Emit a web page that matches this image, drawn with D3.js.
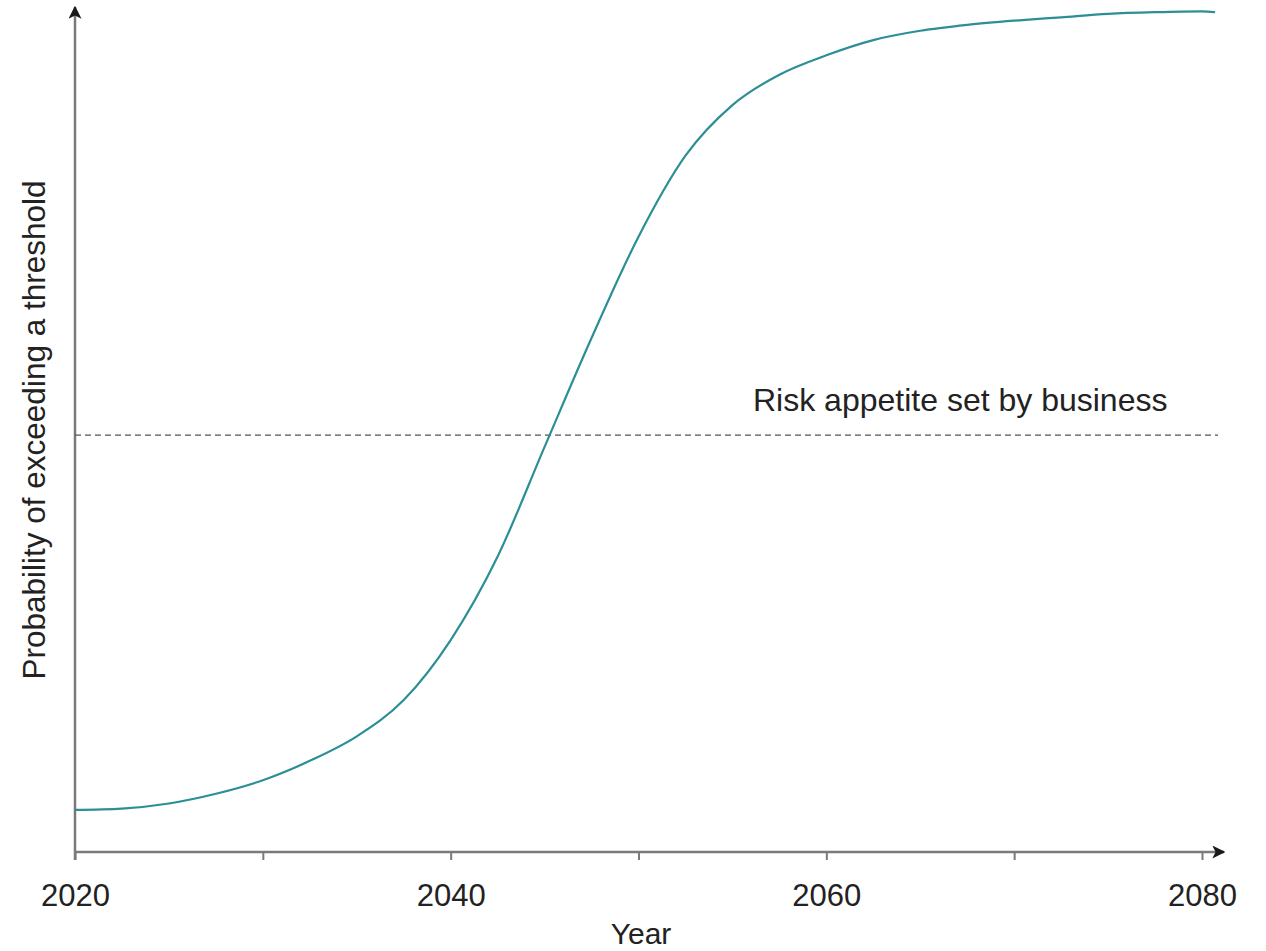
<!DOCTYPE html>
<html>
<head>
<meta charset="utf-8">
<script src="https://cdn.jsdelivr.net/npm/d3@7"></script>
<style>
  html, body { margin: 0; padding: 0; background: #fff; }
  svg { display: block; font-family: "Liberation Sans", Arial, Helvetica, sans-serif; }
</style>
</head>
<body>
<svg id="chart" width="1266" height="951"></svg>
<script>
// Probability of exceeding a threshold over time (S-curve)
const years = [2020, 2022.5, 2025, 2027.5, 2030, 2032.5, 2035, 2037.5, 2040, 2042.5, 2045, 2047.5,
               2050, 2052.5, 2055, 2057.5, 2060, 2062.5, 2065, 2067.5, 2070, 2072.5, 2075, 2077.5,
               2080, 2080.7];
const probability = [0.050, 0.0515, 0.0575, 0.069, 0.085, 0.108, 0.137, 0.180, 0.251, 0.350, 0.480,
                     0.609, 0.729, 0.825, 0.885, 0.921, 0.944, 0.962, 0.973, 0.980, 0.985, 0.989,
                     0.993, 0.995, 0.996, 0.995];
const riskAppetite = 0.494;
const majorTicks = [2020, 2040, 2060, 2080];
const minorTicks = [2030, 2050, 2070];
const labels = {
  x: "Year",
  y: "Probability of exceeding a threshold",
  risk: "Risk appetite set by business"
};

const svg = d3.select("#chart");
const axisColor = "#7a7a7a";
const textColor = "#222";

const x = d3.scaleLinear().domain([2020, 2080]).range([75, 1202]);
const y = d3.scaleLinear().domain([0, 1]).range([852, 8]);

// arrowheads
const defs = svg.append("defs");
defs.append("marker")
  .attr("id", "arrow")
  .attr("viewBox", "0 0 10 10")
  .attr("refX", 9).attr("refY", 5)
  .attr("markerWidth", 13).attr("markerHeight", 13)
  .attr("markerUnits", "userSpaceOnUse")
  .attr("orient", "auto")
  .append("path")
  .attr("d", "M0,0 L10,5 L0,10 L2.5,5 Z")
  .attr("fill", "#1a1a1a");

// x axis with ticks
const xAxis = d3.axisBottom(x)
  .tickValues(majorTicks.concat(minorTicks))
  .tickSize(8)
  .tickFormat(d => majorTicks.includes(d) ? d3.format("d")(d) : "");

const gx = svg.append("g")
  .attr("transform", `translate(0,${y(0)})`)
  .call(xAxis);
gx.select(".domain").remove();
gx.selectAll(".tick line").attr("stroke", axisColor).attr("stroke-width", 2);
gx.selectAll(".tick text")
  .attr("fill", textColor)
  .attr("font-size", 31)
  .attr("y", 54)
  .attr("dy", 0);

svg.append("line")
  .attr("x1", x(2020)).attr("x2", 1224)
  .attr("y1", y(0)).attr("y2", y(0))
  .attr("stroke", axisColor).attr("stroke-width", 2.5)
  .attr("marker-end", "url(#arrow)");

// y axis
svg.append("line")
  .attr("x1", x(2020)).attr("x2", x(2020))
  .attr("y1", y(0) + 8).attr("y2", 7)
  .attr("stroke", axisColor).attr("stroke-width", 2.5)
  .attr("marker-end", "url(#arrow)");

// risk appetite threshold
svg.append("line")
  .attr("x1", x(2020)).attr("x2", 1218)
  .attr("y1", y(riskAppetite)).attr("y2", y(riskAppetite))
  .attr("stroke", "#555").attr("stroke-width", 1.3)
  .attr("stroke-dasharray", "6,4");

svg.append("text")
  .attr("x", 753).attr("y", y(riskAppetite) - 24)
  .attr("fill", textColor)
  .attr("font-size", 32)
  .text(labels.risk);

// probability curve
const line = d3.line()
  .x((d, i) => x(years[i]))
  .y(d => y(d))
  .curve(d3.curveMonotoneX);

svg.append("path")
  .datum(probability)
  .attr("d", line)
  .attr("fill", "none")
  .attr("stroke", "#2b8f95")
  .attr("stroke-width", 2.2);

// axis titles
svg.append("text")
  .attr("x", 641).attr("y", 944)
  .attr("text-anchor", "middle")
  .attr("fill", textColor)
  .attr("font-size", 30)
  .text(labels.x);

svg.append("text")
  .attr("transform", `translate(45,430) rotate(-90)`)
  .attr("text-anchor", "middle")
  .attr("fill", textColor)
  .attr("font-size", 31.5)
  .text(labels.y);
</script>
</body>
</html>
